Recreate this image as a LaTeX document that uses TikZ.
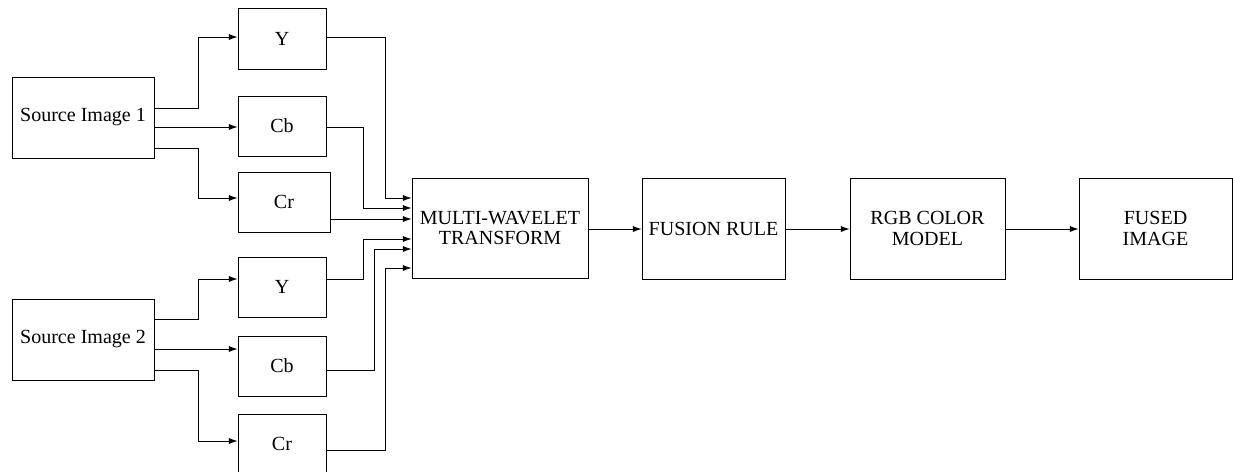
\documentclass[tikz,border=0pt]{standalone}
\usepackage{fontspec}
\setmainfont{Liberation Serif}
\usetikzlibrary{arrows.meta}
\begin{document}
\begin{tikzpicture}[x=0.02cm,y=-0.02cm,line width=0.5pt,>={Latex[length=5pt,width=3.5pt]},
    blk/.style={draw,rectangle,inner sep=1pt,align=center,font=\fontsize{11.4}{11.8}\selectfont}]
      \useasboundingbox (0,0) rectangle (1233,471);
      \draw
        (83,117.5) node[blk,minimum width=2.84cm,minimum height=1.62cm] (src1){Source Image 1}
        (83,339.5) node[blk,minimum width=2.84cm,minimum height=1.62cm] (src2){Source Image 2}
        (282,38.5) node[blk,minimum width=1.76cm,minimum height=1.22cm] (y1){Y}
        (282,126) node[blk,minimum width=1.76cm,minimum height=1.2cm] (cb1){Cb}
        (284,202) node[blk,minimum width=1.84cm,minimum height=1.2cm] (cr1){Cr}
        (282,287) node[blk,minimum width=1.76cm,minimum height=1.2cm] (y2){Y}
        (282,366) node[blk,minimum width=1.76cm,minimum height=1.2cm] (cb2){Cb}
        (282,444) node[blk,minimum width=1.76cm,minimum height=1.2cm] (cr2){Cr}
        (500,228) node[blk,minimum width=3.52cm,minimum height=2cm] (mwt){MULTI-WAVELET\\TRANSFORM}
        (713.5,228.5) node[blk,minimum width=2.86cm,minimum height=2.02cm] (rule){FUSION RULE}
        (927.5,228.5) node[blk,minimum width=3.1cm,minimum height=2.02cm] (rgb){RGB COLOR\\MODEL}
        (1155.5,228.5) node[blk,minimum width=3.06cm,minimum height=2.02cm] (fused){FUSED\\IMAGE};
      \begin{scope}[->]
        \draw (src1.east |- 0,108) -| (198,37) -- (y1.west |- 0,37);
        \draw (src1.east |- 0,127) -- (cb1.west |- 0,127);
        \draw (src1.east |- 0,148) -| (198,198) -- (cr1.west |- 0,198);
        \draw (src2.east |- 0,319) -| (198,279) -- (y2.west |- 0,279);
        \draw (src2.east |- 0,349) -- (cb2.west |- 0,349);
        \draw (src2.east |- 0,370) -| (198,441) -- (cr2.west |- 0,441);
        \draw (y1.east |- 0,37) -| (385,198) -- (mwt.west |- 0,198);
        \draw (cb1.east |- 0,127) -| (363,208) -- (mwt.west |- 0,208);
        \draw (cr1.east |- 0,219) -- (mwt.west |- 0,219);
        \draw (y2.east |- 0,279) -| (363,239) -- (mwt.west |- 0,239);
        \draw (cb2.east |- 0,370) -| (374,249) -- (mwt.west |- 0,249);
        \draw (cr2.east |- 0,450) -| (385,268) -- (mwt.west |- 0,268);
        \draw (mwt.east |- 0,229) -- (rule.west |- 0,229);
        \draw (rule.east |- 0,229) -- (rgb.west |- 0,229);
        \draw (rgb.east |- 0,229) -- (fused.west |- 0,229);
      \end{scope}
    \end{tikzpicture}
\end{document}
